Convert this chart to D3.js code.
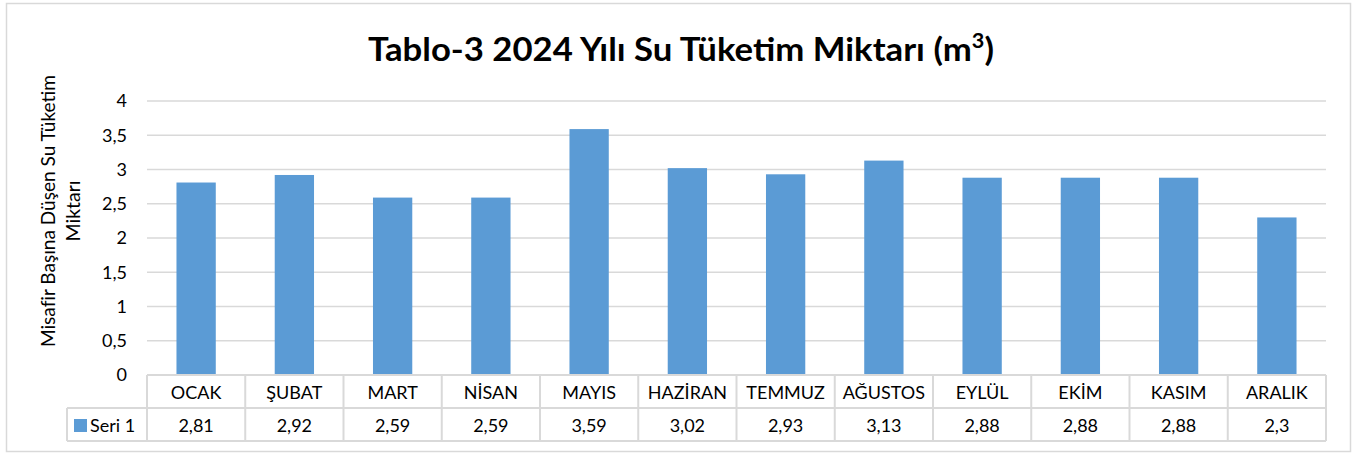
<!DOCTYPE html>
<html lang="tr">
<head>
<meta charset="UTF-8" />
<title>Tablo-3</title>
<style>
  body { margin: 0; background: #fff; }
  #container { width: 1356px; height: 456px; }
  text { font-family: Lato, "Open Sans", sans-serif; fill: #000; }
</style>
</head>
<body>
<div id="container"></div>
<script src="https://cdn.jsdelivr.net/npm/d3@7/dist/d3.min.js"></script>
<script>
const months = ["OCAK", "ŞUBAT", "MART", "NİSAN", "MAYIS", "HAZİRAN", "TEMMUZ", "AĞUSTOS", "EYLÜL", "EKİM", "KASIM", "ARALIK"];
const values = [2.81, 2.92, 2.59, 2.59, 3.59, 3.02, 2.93, 3.13, 2.88, 2.88, 2.88, 2.3];
const valueLabels = ["2,81", "2,92", "2,59", "2,59", "3,59", "3,02", "2,93", "3,13", "2,88", "2,88", "2,88", "2,3"];
const yTicks = [0, 0.5, 1, 1.5, 2, 2.5, 3, 3.5, 4];
const seriesName = "Seri 1";

const W = 1356, H = 456;
const plot = { left: 147, right: 1326, top: 101, bottom: 375 };
const rowH = 33;
const gridColor = "#d9d9d9";
const barColor = "#5b9bd5";

const svg = d3.select("#container").append("svg")
  .attr("width", W).attr("height", H);

// outer frame
svg.append("rect")
  .attr("x", 6.5).attr("y", 3.5).attr("width", 1344).attr("height", 448)
  .attr("fill", "#fff").attr("stroke", gridColor).attr("stroke-width", 1.5);

// title
const title = svg.append("text")
  .attr("x", 681).attr("y", 61)
  .attr("text-anchor", "middle")
  .attr("font-size", 32).attr("font-weight", 700)
  .attr("textLength", 626).attr("lengthAdjust", "spacingAndGlyphs");
title.append("tspan").text("Tablo-3 2024 Yılı Su Tüketim Miktarı (m");
title.append("tspan").attr("font-size", 20).attr("dy", -13).text("3");
title.append("tspan").attr("dy", 13).text(")");

const x = d3.scaleBand().domain(months).range([plot.left, plot.right]).paddingInner(0).paddingOuter(0);
const y = d3.scaleLinear().domain([0, 4]).range([plot.bottom, plot.top]);

// grid
svg.append("g").selectAll("line").data(yTicks.slice(1)).join("line")
  .attr("x1", plot.left).attr("x2", plot.right)
  .attr("y1", d => y(d)).attr("y2", d => y(d))
  .attr("stroke", gridColor).attr("stroke-width", 1.5);

// y axis labels
const yAxis = svg.append("g")
  .attr("transform", `translate(${plot.left},0)`)
  .call(d3.axisLeft(y).tickValues(yTicks).tickSize(0).tickPadding(20)
    .tickFormat(d => String(d).replace(".", ",")));
yAxis.select(".domain").remove();
yAxis.selectAll("text").attr("font-size", 18).attr("font-family", "Lato, sans-serif").attr("fill", "#000");

// y title
const yt = svg.append("text")
  .attr("transform", "translate(55,211) rotate(-90)")
  .attr("text-anchor", "middle").attr("font-size", 19.5);
yt.append("tspan").attr("x", 0).attr("dy", 0)
  .attr("textLength", 272).attr("lengthAdjust", "spacingAndGlyphs")
  .text("Misafir Başına Düşen Su Tüketim");
yt.append("tspan").attr("x", 0).attr("dy", 25).text("Miktarı");

// bars
const bw = x.bandwidth() * 0.4;
svg.append("g").selectAll("rect").data(values).join("rect")
  .attr("x", (d, i) => x(months[i]) + (x.bandwidth() - bw) / 2)
  .attr("width", bw)
  .attr("y", d => y(d))
  .attr("height", d => y(0) - y(d))
  .attr("fill", barColor);

// data table
const tbl = svg.append("g").attr("stroke", gridColor).attr("stroke-width", 2).attr("fill", "none");
const tTop = plot.bottom, tMid = plot.bottom + rowH, tBot = plot.bottom + 2 * rowH;
const legendLeft = 67;
tbl.append("line").attr("x1", plot.left).attr("x2", plot.right).attr("y1", tTop).attr("y2", tTop);
tbl.append("line").attr("x1", legendLeft).attr("x2", plot.right).attr("y1", tMid).attr("y2", tMid);
tbl.append("line").attr("x1", legendLeft).attr("x2", plot.right).attr("y1", tBot).attr("y2", tBot);
tbl.append("line").attr("x1", legendLeft).attr("x2", legendLeft).attr("y1", tMid).attr("y2", tBot);
tbl.selectAll("line.v").data(months).join("line").attr("class", "v")
  .attr("x1", d => x(d)).attr("x2", d => x(d)).attr("y1", tTop).attr("y2", tBot);
tbl.append("line").attr("x1", plot.right).attr("x2", plot.right).attr("y1", tTop).attr("y2", tBot);

svg.append("g").selectAll("text").data(months).join("text")
  .attr("x", d => x(d) + x.bandwidth() / 2).attr("y", tTop + 24)
  .attr("text-anchor", "middle").attr("font-size", 18).text(d => d);

svg.append("g").selectAll("text").data(valueLabels).join("text")
  .attr("x", (d, i) => x(months[i]) + x.bandwidth() / 2).attr("y", tMid + 24)
  .attr("text-anchor", "middle").attr("font-size", 18).text(d => d);

// legend key
svg.append("rect").attr("x", 74).attr("y", tMid + 11).attr("width", 13).attr("height", 13).attr("fill", barColor);
svg.append("text").attr("x", 90).attr("y", tMid + 24).attr("font-size", 18).text(seriesName);
</script>
</body>
</html>
